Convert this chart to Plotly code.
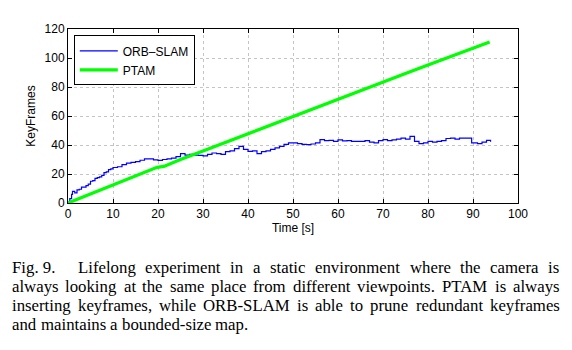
import plotly.graph_objects as go

# ---------------- data ----------------
orb_t = [0, 0.4, 0.8, 1.0, 1.5, 2, 2.5, 3, 3.5, 4, 4.5, 5, 5.5, 6, 6.5, 7, 7.5, 8, 8.5, 9, 9.5, 10,
         11, 12, 13, 14, 15, 16, 17, 18, 19, 20, 21, 22, 23, 24, 25, 26, 27, 28, 29, 30,
         31, 32, 33, 34, 35, 36, 37, 38, 39, 40, 41, 42, 43, 44, 45, 46, 47, 48, 49, 50,
         51, 52, 53, 54, 55, 56, 57, 58, 59, 60, 61, 62, 63, 64, 65, 66, 67, 68, 69, 70,
         71, 72, 73, 74, 75, 76, 77, 78, 79, 80, 81, 82, 83, 84, 85, 86, 87, 88, 89, 89.7,
         90, 91, 92, 93, 93.9]
orb_v = [0, 3, 6, 8, 7, 9, 9.5, 11, 11, 12, 13, 15, 15.5, 17, 17.5, 18, 19, 21, 21.5, 23, 23.5, 24.5,
         25, 26.5, 27.5, 28, 28.5, 29.5, 30.5, 30.5, 29.8, 29.4, 30, 30.5, 31, 32, 34, 33, 33.5, 33, 32.8, 32.5,
         33.5, 34.5, 34, 33.5, 35.5, 36, 37.5, 39, 37, 35.6, 36, 34, 35.5, 36, 37, 38, 39, 40.5, 41.4, 41.4,
         41, 40.5, 40.2, 40.7, 41.5, 43.7, 43, 43.2, 42.5, 43.5, 42.8, 43, 42.5, 42.5, 42.5, 43, 42, 41.4, 43, 43.7,
         43, 43.5, 44, 44.8, 44, 45.9, 42.5, 40.9, 41.5, 42.5, 42, 42.5, 43, 44.5, 44.8, 44, 44.8, 44.8, 44.8, 41.4,
         41.5, 41, 42, 43.2, 42.3]

ptam_t = [0, 5, 10, 15, 19.8, 21.3, 25, 30, 35, 40, 45, 50, 55, 60, 65, 70, 75, 80, 85, 90, 93.7]
ptam_v = [0, 6.3, 12.6, 18.8, 24.6, 25.2, 30.0, 35.8, 41.8, 47.8, 53.8, 59.8, 65.7, 71.6, 77.5, 83.4, 89.3, 95.2, 100.9, 106.6, 111.0]

series_names = ["ORB\u2013SLAM", "PTAM"]
x_ticks = list(range(0, 101, 10))
y_ticks = list(range(0, 121, 20))
x_title = "Time [s]"
y_title = "KeyFrames"

caption_lines = [
    "Fig. 9.|Lifelong experiment in a static environment where the camera is",
    "always looking at the same place from different viewpoints. PTAM is always",
    "inserting keyframes, while ORB-SLAM is able to prune redundant keyframes",
    "and maintains a bounded-size map.",
]

# ---------------- layout constants ----------------
W, H = 572, 350
ML, MR, MT, MB = 67.5, 53.7, 29.3, 146.7
PW = W - ML - MR
PH = H - MT - MB
SANS = "Liberation Sans, Arial, Helvetica, sans-serif"
SERIF = "Liberation Serif, Times New Roman, Times, serif"

fig = go.Figure()
fig.add_trace(go.Scatter(x=orb_t, y=orb_v, mode="lines", name=series_names[0],
                         line=dict(color="#0000ff", width=1.2, shape="hv")))
fig.add_trace(go.Scatter(x=ptam_t, y=ptam_v, mode="lines", name=series_names[1],
                         line=dict(color="#00ff00", width=3.2)))

axis_common = dict(showline=True, linecolor="black", linewidth=1, mirror="ticks",
                   ticks="inside", ticklen=4, tickwidth=1, tickcolor="black",
                   showgrid=True, gridcolor="#c4c4c4", griddash="dot", gridwidth=1,
                   zeroline=False, automargin=False,
                   tickfont=dict(family=SANS, size=12, color="black"))

fig.update_xaxes(range=[0, 100], tickvals=x_ticks, ticktext=[str(v) for v in x_ticks],
                 title=dict(text=x_title, font=dict(family=SANS, size=12, color="black"), standoff=2),
                 **axis_common)
fig.update_yaxes(range=[0, 120], tickvals=y_ticks, ticktext=[str(v) for v in y_ticks],
                 title=dict(text=y_title, font=dict(family=SANS, size=12, color="black"), standoff=6),
                 **axis_common)

# ---------------- caption (justified text) ----------------
TW = {' ': 250, '.': 250, ',': 250, '-': 333, '(': 333, ')': 333, ':': 278, ';': 278,
      'A': 722, 'B': 667, 'C': 667, 'D': 722, 'E': 611, 'F': 556, 'G': 722, 'H': 722, 'I': 333,
      'J': 389, 'K': 722, 'L': 611, 'M': 889, 'N': 722, 'O': 722, 'P': 556, 'Q': 722, 'R': 667,
      'S': 556, 'T': 611, 'U': 722, 'V': 722, 'W': 944, 'X': 722, 'Y': 722, 'Z': 611,
      'a': 444, 'b': 500, 'c': 444, 'd': 500, 'e': 444, 'f': 333, 'g': 500, 'h': 500, 'i': 278,
      'j': 278, 'k': 500, 'l': 278, 'm': 778, 'n': 500, 'o': 500, 'p': 500, 'q': 500, 'r': 333,
      's': 389, 't': 278, 'u': 500, 'v': 500, 'w': 722, 'x': 500, 'y': 500, 'z': 444}
CAP_SIZE = 16.8
def tw(s):
    return sum(TW.get(c, 500) for c in s) * CAP_SIZE / 1000.0

CAP_LEFT, CAP_RIGHT = 11.5, 560.0
LABEL_END = 77.3
CAP_Y = [267.5, 286.5, 305.5, 324.5]

def px2paper(px, py):
    return (px - ML) / PW, (H - MB - py) / PH

annots = []
for i, line in enumerate(caption_lines):
    positions = []
    if "|" in line:
        label, rest = line.split("|")
        positions.append((CAP_LEFT, label))
        start = LABEL_END
        words = rest.split(" ")
    else:
        start = CAP_LEFT
        words = line.split(" ")
    justify = i < len(caption_lines) - 1
    widths = [tw(w) for w in words]
    if justify and len(words) > 1:
        gap = (CAP_RIGHT - start - sum(widths)) / (len(words) - 1)
    else:
        gap = tw(" ")
    x = start
    for w, wd in zip(words, widths):
        positions.append((x, w))
        x += wd + gap
    for (px, word) in positions:
        ax, ay = px2paper(px, CAP_Y[i])
        annots.append(dict(x=ax, y=ay, xref="paper", yref="paper", text=word, showarrow=False,
                           xanchor="left", yanchor="middle", borderpad=0, borderwidth=0,
                           font=dict(family=SERIF, size=CAP_SIZE, color="black")))

fig.update_layout(
    width=W, height=H, margin=dict(l=ML, r=MR, t=MT, b=MB, pad=0),
    paper_bgcolor="white", plot_bgcolor="white",
    showlegend=True,
    legend=dict(x=(73.3 - ML) / PW, y=1 - (35.7 - MT) / PH, xanchor="left", yanchor="top",
                bordercolor="black", borderwidth=1, bgcolor="white",
                font=dict(family=SANS, size=12, color="black"), tracegroupgap=0,
                itemwidth=38),
    annotations=annots,
)

fig.write_html("out.html")
